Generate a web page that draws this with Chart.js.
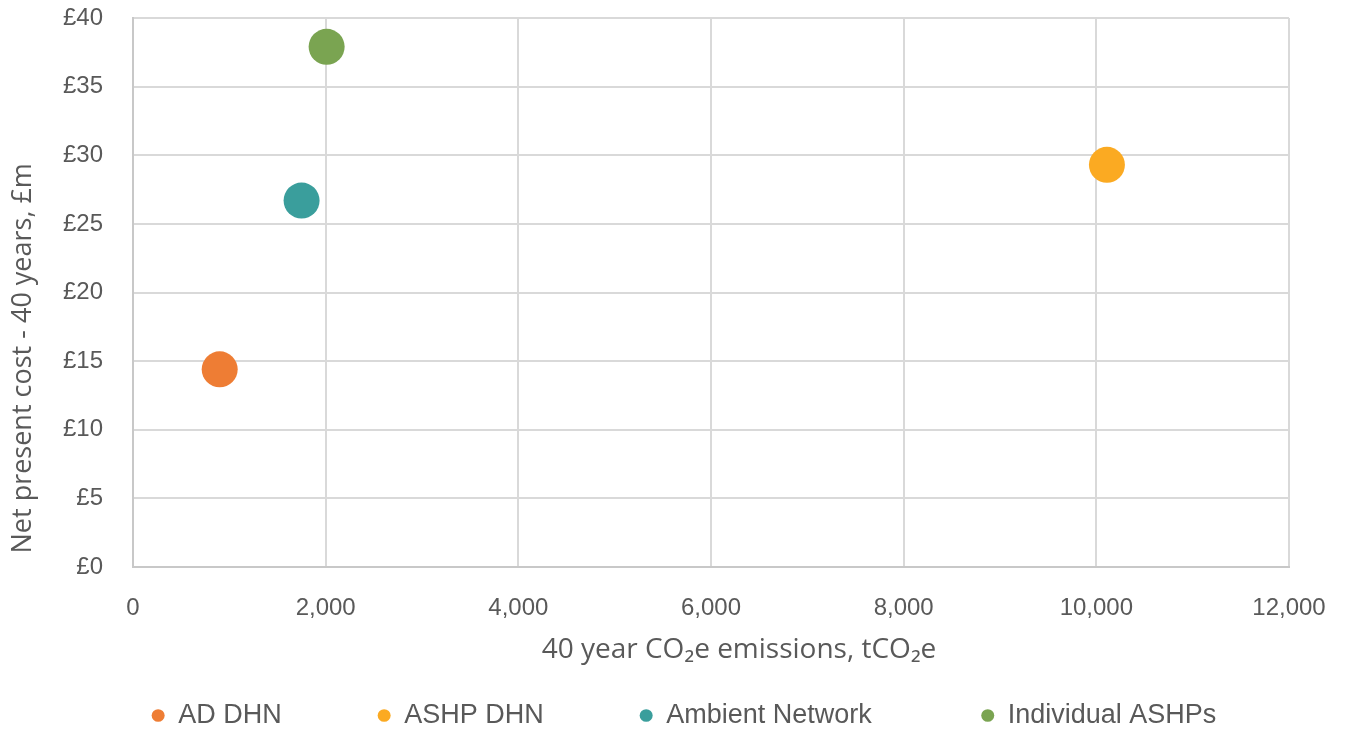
<!DOCTYPE html>
<html>
<head>
<meta charset="utf-8">
<script src="https://cdn.jsdelivr.net/npm/chart.js@4/dist/chart.umd.min.js"></script>
<style>
  html, body { margin: 0; padding: 0; background: #fff; }
  #wrap { width: 1349px; height: 731px; }
</style>
</head>
<body>
<div id="wrap"><canvas id="myChart" width="1349" height="731"></canvas></div>
<script>
// options / scenarios
var names = ["AD DHN", "ASHP DHN", "Ambient Network", "Individual ASHPs"];
// 40 year CO2e emissions, tCO2e
var emissions = [900, 10110, 1750, 2010];
// net present cost, £m
var costs = [14.4, 29.3, 26.7, 37.9];
var colours = ["#EE7D34", "#FBAA22", "#3A9E9C", "#7AA451"];
var xTicks = [0, 2000, 4000, 6000, 8000, 10000, 12000];
var yTicks = [0, 5, 10, 15, 20, 25, 30, 35, 40];

var txt = '#595959';
var grid = '#d9d9d9';
var fontFam = "'Liberation Sans', Arial, sans-serif";
var titleFam = "'Open Sans', 'Liberation Sans', sans-serif";
// extra spacing after each legend entry
var legendGap = ['\u2003\u2003\u2003', '\u2003\u2003\u2003', '\u2003\u2003\u2003\u2002', '\u2003\u2003'];

var datasets = names.map(function (n, i) {
    return {
        label: n,
        data: [{ x: emissions[i], y: costs[i] }],
        backgroundColor: colours[i],
        borderColor: colours[i],
        borderWidth: 0,
        pointRadius: 18,
        pointHoverRadius: 18
    };
});

var ctx = document.getElementById("myChart").getContext('2d');
var myChart = new Chart(ctx, {
    type: 'scatter',
    data: { datasets: datasets },
    options: {
        responsive: false,
        animation: false,
        events: [],
        layout: { padding: { top: 15, right: 60, bottom: -8, left: 0 } },
        plugins: {
            tooltip: { enabled: false },
            legend: {
                position: 'bottom',
                fullSize: false,
                labels: {
                    usePointStyle: true,
                    pointStyle: 'circle',
                    boxWidth: 13,
                    boxHeight: 9,
                    pointStyleWidth: 13,
                    padding: 15,
                    color: txt,
                    font: { family: fontFam, size: 27 },
                    generateLabels: function (chart) {
                        return names.map(function (n, i) {
                            return {
                                text: n + legendGap[i],
                                fillStyle: colours[i],
                                strokeStyle: colours[i],
                                lineWidth: 0,
                                pointStyle: 'circle',
                                fontColor: txt,
                                datasetIndex: i,
                                hidden: false
                            };
                        });
                    }
                }
            }
        },
        scales: {
            x: {
                type: 'linear',
                min: xTicks[0],
                max: xTicks[xTicks.length - 1],
                afterBuildTicks: function (s) { s.ticks = xTicks.map(function (v) { return { value: v }; }); },
                afterFit: function (s) { s.height = 120; s.paddingLeft = 0; s.paddingRight = 0; },
                grid: { color: grid, lineWidth: 2, drawTicks: false },
                border: { color: '#c8c8c8', width: 2 },
                ticks: {
                    padding: 27,
                    color: txt,
                    font: { family: fontFam, size: 24 },
                    callback: function (v) { return v.toLocaleString('en-GB'); }
                },
                title: {
                    display: true,
                    text: '\u2003\u200340 year CO\u2082e emissions, tCO\u2082e',
                    color: txt,
                    font: { family: titleFam, size: 28 },
                    padding: { top: 20, bottom: 20 }
                }
            },
            y: {
                type: 'linear',
                min: yTicks[0],
                max: yTicks[yTicks.length - 1],
                afterBuildTicks: function (s) { s.ticks = yTicks.map(function (v) { return { value: v }; }); },
                afterFit: function (s) { s.width = 133; s.paddingTop = 15; s.paddingBottom = 15; },
                grid: { color: grid, lineWidth: 2, drawTicks: false },
                border: { color: '#c8c8c8', width: 2 },
                ticks: {
                    padding: 30,
                    color: txt,
                    font: { family: fontFam, size: 24 },
                    callback: function (v) { return '£' + v; }
                },
                title: {
                    display: true,
                    align: 'start',
                    text: '\u2002Net present cost - 40 years, £m',
                    color: txt,
                    font: { family: titleFam, size: 27 },
                    padding: { top: 7, bottom: 7 }
                }
            }
        }
    }
});
</script>
</body>
</html>
